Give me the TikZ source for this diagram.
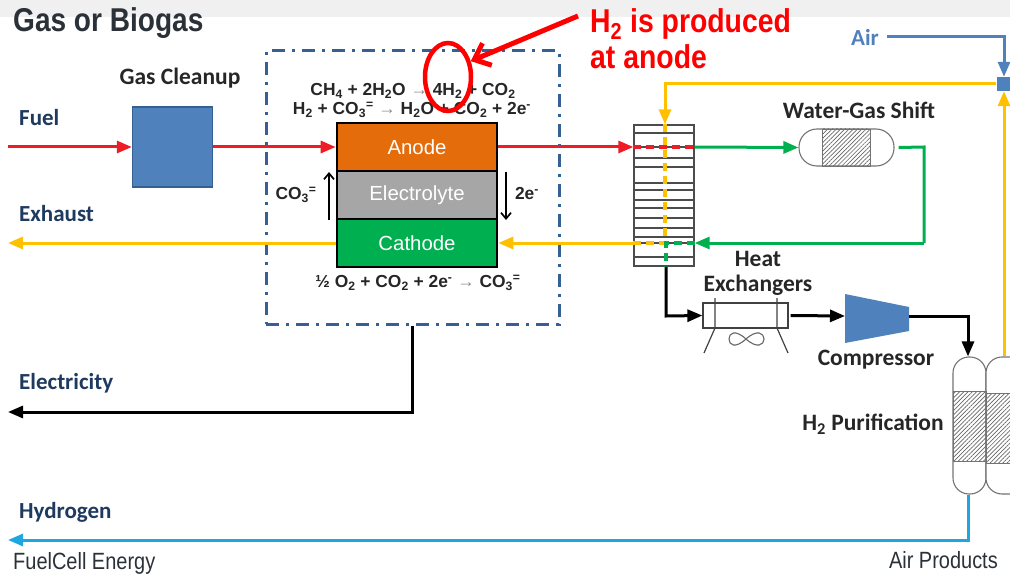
\documentclass[tikz,border=0pt]{standalone}
\usepackage{fontspec}
\setmainfont{Liberation Sans}
\newfontfamily\narrowfont[FakeStretch=0.85]{Liberation Sans}
\newfontfamily\calloutfont[FakeStretch=0.86]{Liberation Sans}
\newfontfamily\labelfont{Carlito}
\usetikzlibrary{arrows.meta,positioning,patterns.meta,shapes.geometric}
\definecolor{fuelred}{HTML}{EE1C25}
\definecolor{anodeorange}{HTML}{E46C0A}
\definecolor{cellgrey}{HTML}{A6A6A6}
\definecolor{gasgreen}{HTML}{00B050}
\definecolor{heatyellow}{HTML}{FFC000}
\definecolor{unitblue}{HTML}{4F81BD}
\definecolor{navy}{HTML}{1F3A5F}
\definecolor{cellblue}{HTML}{376092}
\definecolor{hydroblue}{HTML}{1CA7E0}
\definecolor{titlegrey}{HTML}{2B3138}
\newcommand{\lo}[1]{\textsubscript{#1}}
\newcommand{\hi}[1]{\textsuperscript{#1}}
\newcommand{\yields}{\textcolor{black!45}{→}}
\begin{document}
\begin{tikzpicture}[x=1pt,y=-1pt,line join=miter]
  \tikzstyle{flow}=[line width=3pt,-{Triangle[length=15pt,width=12pt]}]
  \tikzstyle{plain}=[line width=3pt]
  \tikzstyle{broken}=[line width=3.4pt,dash pattern=on 8pt off 5pt]
  \tikzstyle{layer}=[draw=black,line width=2.6pt,minimum width=160pt,minimum height=48pt,inner sep=0pt,text=white,font=\fontsize{20.4}{24}\selectfont]
  \tikzstyle{bold}=[inner sep=0pt,font=\labelfont\bfseries\fontsize{23.5}{28}\selectfont,text=black!85]
  \tikzstyle{stream}=[inner sep=0pt,anchor=west,font=\labelfont\bfseries\fontsize{23}{28}\selectfont,text=navy]
  \tikzstyle{eqn}=[inner sep=0pt,font=\bfseries\fontsize{17.4}{20}\selectfont,text=black!85]
  \tikzstyle{vessel}=[draw=black!55,line width=1.1pt,inner sep=0pt,fill=white]
  \tikzstyle{packing}=[draw=black!55,line width=.8pt,inner sep=0pt,pattern={Lines[angle=45,distance=3pt,line width=.7pt]},pattern color=black!60]

  \clip (0,0) rectangle (1010,575);
  \fill[black!6] (0,0) rectangle (1010,17);

  \coordinate (fuel-in) at (8,147);
  \coordinate (exhaust-out) at (8,243);
  \coordinate (power-out) at (8,412);
  \coordinate (hydrogen-out) at (8,540);
  \coordinate (air-in) at (887,37);
  \coordinate (wgs-turn) at (924,147);

  \node[draw=cellblue,fill=unitblue,line width=1.4pt,minimum size=80pt,inner sep=0pt] (cleanup) at (172.5,147) {};
  \node[layer,fill=anodeorange] (anode) at (417,147) {Anode};
  \node[layer,fill=cellgrey] (electrolyte) at (417,195) {Electrolyte};
  \node[layer,fill=gasgreen] (cathode) at (417,243) {Cathode};
  \node[draw=cellblue,line width=3pt,dash pattern=on 13pt off 7pt on 3pt off 7pt,minimum width=293pt,minimum height=273pt,inner sep=0pt] (cell) at (412.5,187.5) {};

  \node[draw=black!70,line width=1.3pt,minimum width=60pt,minimum height=141pt,inner sep=0pt] (stack) at (664,195.5) {};
  \foreach \y in {133,147,158,167,183,190,200,208,218,228,237,243,257}
    { \draw[black!70,line width=1.3pt] (stack.west |- 0,\y) -- (stack.east |- 0,\y); }

  \node[vessel,rounded corners=18pt,minimum width=95pt,minimum height=37pt] (wgs) at (846.5,147.5) {};
  \node[packing,minimum width=48pt,minimum height=37pt] (wgs-bed) at (846,147.5) {};

  \node[draw=black!75,line width=1.2pt,minimum width=85pt,minimum height=25pt,inner sep=0pt] (cooler) at (745.5,315.5) {};
  \draw[black!75,line width=1.2pt] (715,298) -- (715,328) -- (704,353);
  \draw[black!75,line width=1.2pt] (777,298) -- (777,328) -- (788,353);
  \draw[black!60,line width=1.1pt] (746,339) .. controls (735,329) and (729,333) .. (729,339) .. controls (729,345) and (735,349) .. (746,339) .. controls (757,329) and (764,333) .. (764,339) .. controls (764,345) and (757,349) .. (746,339);

  \fill[unitblue] (845,294) -- (909,307) -- (909,331) -- (845,343) -- cycle;
  \coordinate (comp-in) at (845,316);
  \coordinate (comp-out) at (909,316);

  \node[vessel,rounded corners=16pt,minimum width=33pt,minimum height=137pt] (psa-a) at (969.5,425.5) {};
  \node[vessel,rounded corners=16pt,minimum width=39pt,minimum height=137pt] (psa-b) at (1005.5,425.5) {};
  \node[packing,minimum width=33pt,minimum height=70pt] (bed-a) at (969.5,426) {};
  \node[packing,minimum width=39pt,minimum height=70pt] (bed-b) at (1005.5,428) {};

  \node[fill=unitblue,minimum width=15pt,minimum height=14pt,inner sep=0pt] (mixer) at (1004,84) {};

  \draw[flow,fuelred] (fuel-in) -- (cleanup.west);
  \draw[flow,fuelred] (cleanup.east) -- (anode.west);
  \draw[flow,fuelred] (anode.east) -- (anode.east -| stack.west);
  \draw[broken,heatyellow] (stack.north) ++(1,0) -- (665,243) -- (cathode.east -| stack.west);
  \draw[broken,fuelred] (anode.east -| stack.west) -- (anode.east -| stack.east);
  \draw[flow,gasgreen] (anode.east -| stack.east) -- (wgs.west);
  \draw[plain,gasgreen] (wgs.east) ++(4,0) -- (wgs-turn) -- (wgs-turn |- cathode.east);
  \draw[flow,gasgreen] (wgs-turn |- cathode.east) -- (cathode.east -| stack.east);
  \draw[broken,gasgreen] (cathode.east -| stack.east) -- (666,243) -- (stack.south -| 666,0);
  \draw[flow,heatyellow] (cathode.east -| stack.west) -- (cathode.east);
  \draw[flow,heatyellow] (cathode.west) -- (exhaust-out);
  \draw[flow,heatyellow] (mixer.west) -- (665,84) -- (stack.north -| 665,0);
  \draw[flow,heatyellow] (psa-b.north -| 1004,0) -- (mixer.south -| 1004,0);
  \draw[flow,unitblue] (air-in) -- (1004,37) -- (mixer.north -| 1004,0);
  \draw[flow,black] (stack.south -| 666,0) -- (666,316) -- (cooler.west);
  \draw[flow,black] (cooler.east) ++(2,0) -- (comp-in);
  \draw[flow,black] (comp-out) -- (968,316) -- (psa-a.north -| 968,0);
  \draw[flow,black] (cell.south -| 412,0) -- (412,412) -- (power-out);
  \draw[flow,hydroblue] (psa-a.south -| 968,0) -- (968,540) -- (hydrogen-out);

  \foreach \name/\x/\y/\text in {fuel-label/19/118/Fuel, exhaust-label/19/214/Exhaust,
                                 power-label/19/383/Electricity, hydrogen-label/19/512/Hydrogen}
    \node[stream] (\name) at (\x,\y) {\text};
  \foreach \name/\x/\y/\text in {cleanup-label/180/78/Gas Cleanup, wgs-label/859/110/Water-Gas Shift,
                                 heat-label/758/259/Heat, exch-label/758/285/Exchangers,
                                 comp-label/876/360/Compressor, psa-label/873/424/{H\lo{2} Purification}}
    \node[bold] (\name) at (\x,\y) {\text};
  \node[stream,text=unitblue,anchor=center] (air-label) at (865,37) {Air};

  \node[eqn] (eq-reform) at (413,91) {CH\lo{4} + 2H\lo{2}O \yields{} 4H\lo{2} + CO\lo{2}};
  \node[eqn] (eq-anode) at (412,110) {H\lo{2} + CO\lo{3}\hi{=} \yields{} H\lo{2}O + CO\lo{2} + 2e\hi{-}};
  \node[eqn] (eq-cathode) at (418,283) {½ O\lo{2} + CO\lo{2} + 2e\hi{-} \yields{} CO\lo{3}\hi{=}};
  \node[eqn] (co3-label) at (296,195) {CO\lo{3}\hi{=}};
  \node[eqn] (e-label) at (527,194) {2e\hi{-}};
  \coordinate (ion-a) at (329,220);
  \coordinate (ion-b) at (329,172);
  \coordinate (elec-a) at (506,172);
  \coordinate (elec-b) at (506,220);
  \draw[line width=1.7pt,-{Straight Barb[length=6pt,width=10pt]}] (ion-a) -- (ion-b);
  \draw[line width=1.7pt,-{Straight Barb[length=6pt,width=10pt]}] (elec-a) -- (elec-b);

  \node[draw=red,line width=4.5pt,ellipse,minimum width=46pt,minimum height=68pt,inner sep=0pt] (ring) at (448,77) {};
  \coordinate (callout-start) at (578,16);
  \draw[red,line width=5pt,-{Straight Barb[length=14pt,width=24pt]}] (callout-start) -- (ring.35);
  \node[inner sep=0pt,anchor=west,text=red,font=\calloutfont\bfseries\fontsize{33}{38}\selectfont] (callout-a) at (590,24) {H\lo{2} is produced};
  \node[inner sep=0pt,anchor=west,text=red,font=\calloutfont\bfseries\fontsize{33}{38}\selectfont] (callout-b) at (590,57) {at anode};
  \node[inner sep=0pt,anchor=west,text=titlegrey,font=\narrowfont\bfseries\fontsize{33}{38}\selectfont] (title) at (13,23) {Gas or Biogas};
  \node[inner sep=0pt,anchor=west,text=titlegrey,font=\narrowfont\fontsize{23.5}{28}\selectfont] (source-a) at (13,563) {FuelCell Energy};
  \node[inner sep=0pt,anchor=east,text=titlegrey,font=\narrowfont\fontsize{23.5}{28}\selectfont] (source-b) at (998,560) {Air Products};
\end{tikzpicture}
\end{document}
